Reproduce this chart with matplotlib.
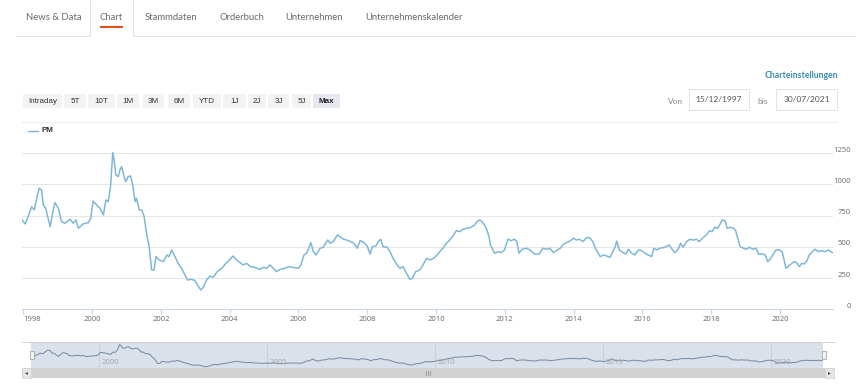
import matplotlib.pyplot as plt
from matplotlib.patches import Rectangle
from matplotlib.transforms import ScaledTranslation, blended_transform_factory

# PM share price (decimal year, EUR)
years = [
    1997.96, 1998.05, 1998.14, 1998.24, 1998.32, 1998.39, 1998.46, 1998.53, 1998.58, 1998.65,
    1998.78, 1998.87, 1998.92, 1999.02, 1999.11, 1999.21, 1999.36, 1999.45, 1999.53, 1999.60,
    1999.74, 1999.89, 1999.96, 2000.03, 2000.13, 2000.23, 2000.33, 2000.40, 2000.47, 2000.54,
    2000.60, 2000.64, 2000.69, 2000.76, 2000.81, 2000.86, 2000.93, 2000.98, 2001.05, 2001.12,
    2001.18, 2001.25, 2001.29, 2001.37, 2001.44, 2001.51, 2001.59, 2001.66, 2001.73, 2001.80,
    2001.86, 2001.95, 2002.07, 2002.17, 2002.24, 2002.31, 2002.41, 2002.50, 2002.60, 2002.70,
    2002.77, 2002.89, 2002.99, 2003.09, 2003.16, 2003.25, 2003.33, 2003.43, 2003.52, 2003.64,
    2003.77, 2003.89, 2003.99, 2004.10, 2004.20, 2004.30, 2004.39, 2004.49, 2004.61, 2004.73,
    2004.86, 2004.98, 2005.07, 2005.17, 2005.27, 2005.36, 2005.46, 2005.61,
    2005.71, 2006.00, 2006.07, 2006.16, 2006.24, 2006.36, 2006.43, 2006.51, 2006.63, 2006.72,
    2006.85, 2006.92, 2007.01, 2007.13, 2007.21, 2007.30, 2007.40, 2007.52, 2007.61, 2007.71,
    2007.79, 2007.86, 2007.93, 2008.00, 2008.08, 2008.15, 2008.25, 2008.32, 2008.39, 2008.46,
    2008.58, 2008.66, 2008.75, 2008.85, 2008.95, 2009.04, 2009.14, 2009.24, 2009.31, 2009.41,
    2009.53, 2009.62, 2009.72, 2009.82, 2009.93, 2010.03, 2010.11, 2010.20, 2010.30, 2010.40,
    2010.51, 2010.59, 2010.69, 2010.78, 2010.90, 2011.02, 2011.12, 2011.19, 2011.27, 2011.33,
    2011.41, 2011.48, 2011.54, 2011.58, 2011.63, 2011.70, 2011.80, 2011.89, 2011.99, 2012.09,
    2012.18, 2012.28, 2012.35, 2012.41, 2012.50, 2012.62, 2012.73, 2012.86, 2013.00, 2013.10,
    2013.20, 2013.31, 2013.41,
    2013.61, 2013.71, 2013.86, 2014.00, 2014.08, 2014.17, 2014.27, 2014.37, 2014.46, 2014.56,
    2014.63, 2014.69, 2014.77, 2014.87, 2014.96, 2015.06, 2015.14, 2015.21, 2015.25, 2015.33,
    2015.43, 2015.52, 2015.59, 2015.69, 2015.78, 2015.88, 2015.98, 2016.07, 2016.17, 2016.27,
    2016.33, 2016.41, 2016.51, 2016.65, 2016.78, 2016.84, 2016.94, 2017.04, 2017.11, 2017.18,
    2017.28, 2017.38, 2017.47, 2017.57, 2017.65, 2017.74, 2017.86, 2017.95, 2018.03, 2018.10,
    2018.19, 2018.24, 2018.32, 2018.41, 2018.46, 2018.55, 2018.65, 2018.71, 2018.77, 2018.84,
    2018.94, 2019.03, 2019.11, 2019.21, 2019.30, 2019.38, 2019.50, 2019.57, 2019.64, 2019.71,
    2019.79, 2019.88, 2019.98, 2020.06, 2020.12, 2020.17, 2020.25, 2020.32, 2020.41, 2020.48,
    2020.56, 2020.63, 2020.70, 2020.77, 2020.85, 2020.94, 2021.02, 2021.12, 2021.21, 2021.31,
    2021.41, 2021.47, 2021.52,
]
prices = [
    716, 684, 742, 822, 796, 889, 969, 956, 836, 809,
    662, 796, 854, 809, 702, 689, 721, 689, 716, 649,
    684, 694, 729, 868, 836, 809, 756, 876, 862, 996,
    1255, 1196, 1076, 1063, 1116, 1143, 1063, 1023, 1063, 1068,
    996, 862, 889, 796, 796, 748, 595, 502, 315, 315,
    422, 395, 382, 435, 422, 475, 422, 368, 328, 275,
    235, 240, 230, 182, 155, 182, 235, 267, 256, 302,
    328, 368, 395, 427, 395, 374, 355, 368, 342, 336,
    320, 336, 328, 355, 328, 302, 320, 328,
    342, 328, 355, 435, 449, 534, 462, 435, 489, 497,
    555, 529, 542, 595, 582, 563, 555, 542, 529, 489,
    550, 542, 529, 507, 443, 502, 507, 542, 561, 502,
    497, 462, 408, 363, 328, 342, 288, 240, 248, 302,
    315, 355, 408, 395, 408, 435, 462, 489, 529, 555,
    595, 630, 622, 641, 649, 657, 675, 702, 716, 702,
    675, 635, 582, 515, 489, 449, 462, 454, 475, 561,
    550, 561, 542, 449, 481, 489, 475, 443, 443, 489,
    481, 489, 454,
    489, 523, 542, 569, 555, 561, 542, 574, 574, 542,
    489, 462, 422, 435, 427, 416, 462, 502, 547, 475,
    454, 443, 481, 449, 435, 475, 470, 449, 435, 422,
    489, 475, 489, 497, 515, 489, 454, 481, 529, 497,
    542, 561, 555, 561, 542, 569, 595, 630, 622, 657,
    649, 675, 716, 708, 649, 657, 649, 630, 569, 502,
    489, 481, 497, 481, 489, 443, 443, 435, 382, 400,
    435, 475, 475, 462, 395, 328, 347, 363, 382, 374,
    342, 368, 363, 382, 435, 462, 481, 462, 470, 462,
    475, 462, 454,
]

y_ticks = [0, 250, 500, 750, 1000, 1250]
x_ticks = list(range(1998, 2021, 2))
nav_ticks = [2000, 2005, 2010, 2015, 2020]

tabs = ["News & Data", "Chart", "Stammdaten", "Orderbuch", "Unternehmen", "Unternehmenskalender"]
tab_x = [26, 100, 145, 219, 285, 365]
buttons = ["Intraday", "5T", "10T", "1M", "3M", "6M", "YTD", "1J", "2J", "3J", "5J", "Max"]
button_x = [(23, 62), (64, 86), (88, 115), (117, 139), (143, 164), (168, 190),
            (193, 221), (223, 246), (248, 266), (268, 289), (292, 311), (313, 340)]

LINE = "#7fb7d7"
GRID = "#e6e6e6"
AXIS = "#ccd6eb"
W, H = 860, 385
X0, X1 = 1997.962, 2021.54

UI_FONT = ["Lato", "DejaVu Sans"]
BTN_FONT = ["Liberation Sans", "DejaVu Sans"]


def rect(x0, y0, x1, y1):
    """pixel box -> figure fraction [left, bottom, width, height]"""
    return [x0 / W, 1 - y1 / H, (x1 - x0) / W, (y1 - y0) / H]


fig = plt.figure(figsize=(W / 100, H / 100), dpi=100)
fig.patch.set_facecolor("white")

# ---- main chart ----
ax = fig.add_axes(rect(22, 140, 833, 309.3))
ax.plot(years, prices, color=LINE, lw=1.1, solid_joinstyle="round")
ax.set_xlim(X0, X1)
ax.set_ylim(0, 169.3 * 8.01)
ax.set_yticks(y_ticks)
ax.set_xticks(x_ticks)
ax.set_xticklabels([str(y) for y in x_ticks])
ax.grid(axis="y", color=GRID, lw=0.8)
ax.set_axisbelow(True)
for s in ["top", "left", "right"]:
    ax.spines[s].set_visible(False)
ax.spines["bottom"].set_color(AXIS)
ax.spines["bottom"].set_linewidth(0.8)
ax.yaxis.set_ticks_position("right")
ax.tick_params(axis="y", length=0, pad=13, labelsize=5.5, labelcolor="#666666")
ax.tick_params(axis="x", length=3.6, width=0.8, color=AXIS, pad=1.5,
               labelsize=5.5, labelcolor="#666666")
for t in ax.get_yticklabels():
    t.set_horizontalalignment("right")
    t.set_fontfamily("Open Sans")
    t.set_transform(t.get_transform() + ScaledTranslation(0, 4 / 100, fig.dpi_scale_trans))
for t in ax.get_xticklabels():
    t.set_fontfamily("Open Sans")
ax.get_xticklabels()[0].set_horizontalalignment("left")

# ---- navigator ----
nav = fig.add_axes(rect(31, 342, 823, 368))
nav.set_facecolor("#dbe1ea")
nav.plot(years, prices, color="#75889e", lw=0.7)
nav.set_xlim(X0, X1)
nav.set_ylim(95, 1370)
nav.set_xticks([])
nav.set_yticks([])
for s in nav.spines.values():
    s.set_visible(False)
tr = blended_transform_factory(nav.transData, nav.transAxes)
for yr in nav_ticks:
    nav.axvline(yr, color="#c6ced9", lw=0.6, zorder=0)
    nav.text(yr + 0.07, 0.08, str(yr), transform=tr, fontsize=5.5, color="#a0a6ae",
             family="Open Sans", va="bottom", ha="left")

# ---- page chrome, drawn in pixel coordinates ----
ui = fig.add_axes([0, 0, 1, 1], zorder=5)
ui.set_xlim(0, W)
ui.set_ylim(H, 0)
ui.axis("off")

# tabs
ui.plot([16, 90], [36, 36], color="#e4e4e4", lw=0.8)
ui.plot([133, 855], [36, 36], color="#e4e4e4", lw=0.8)
ui.plot([90, 90], [0, 36], color="#e4e4e4", lw=0.8)
ui.plot([133, 133], [0, 36], color="#e4e4e4", lw=0.8)
for name, x in zip(tabs, tab_x):
    ui.text(x, 18, name, fontsize=6.8, color="#6a6a6a", family=UI_FONT, va="center", ha="left")
ui.plot([100, 122.5], [27, 27], color="#e2501e", lw=1.5, solid_capstyle="butt")

# range buttons
for name, (bx0, bx1) in zip(buttons, button_x):
    active = name == "Max"
    ui.add_patch(Rectangle((bx0, 94), bx1 - bx0, 14, facecolor="#e6e8f0" if active else "#f3f3f3",
                           edgecolor="none"))
    ui.text((bx0 + bx1) / 2, 101.5, name, fontsize=5.8, color="#222222" if active else "#333333",
            family=BTN_FONT, weight="bold" if active else "normal", ha="center", va="center")

ui.text(838, 75, "Charteinstellungen", fontsize=6.3, color="#3b8db4", weight="bold",
        family=UI_FONT, ha="right", va="center")
ui.text(683, 101, "Von", fontsize=6, color="#8a8a8a", family=UI_FONT, ha="right", va="center")
ui.text(757, 101, "bis", fontsize=6, color="#8a8a8a", family=UI_FONT, ha="left", va="center")
for (bx0, bx1), label in [((689, 749), "15/12/1997"), ((776, 837), "30/07/2021")]:
    ui.add_patch(Rectangle((bx0, 89), bx1 - bx0, 21, facecolor="white", edgecolor="#e2e2e2", lw=0.7))
    ui.text((bx0 + bx1) / 2, 100, label, fontsize=6, color="#555555", family=UI_FONT,
            ha="center", va="center")
ui.plot([22, 837], [121.7, 121.7], color="#f0f0f0", lw=1.0)

# legend
ui.plot([28, 38], [131, 131], color=LINE, lw=1.0)
ui.text(42, 131, "PM", fontsize=5.8, color="#333333", weight="bold", family=BTN_FONT, va="center")

# navigator frame, handles and scrollbar
ui.plot([22, 835], [342, 342], color="#cccccc", lw=0.6)
for hx in (29.5, 822):
    ui.add_patch(Rectangle((hx, 351), 4, 8, facecolor="#f2f2f2", edgecolor="#999999", lw=0.5))
ui.add_patch(Rectangle((22, 368), 812, 10, facecolor="#d2d2d2", edgecolor="none"))
ui.add_patch(Rectangle((22, 368), 9, 10, facecolor="#e6e6e6", edgecolor="#cccccc", lw=0.4))
ui.add_patch(Rectangle((825, 368), 9, 10, facecolor="#e6e6e6", edgecolor="#cccccc", lw=0.4))
ui.text(26.5, 373, "◂", fontsize=4, color="#444444", ha="center", va="center", family="DejaVu Sans")
ui.text(829.5, 373, "▸", fontsize=4, color="#444444", ha="center", va="center", family="DejaVu Sans")
for gx in (425.5, 427.5, 429.5):
    ui.plot([gx, gx], [371, 375], color="#888888", lw=0.5)

fig.savefig("out.png", dpi=100)
